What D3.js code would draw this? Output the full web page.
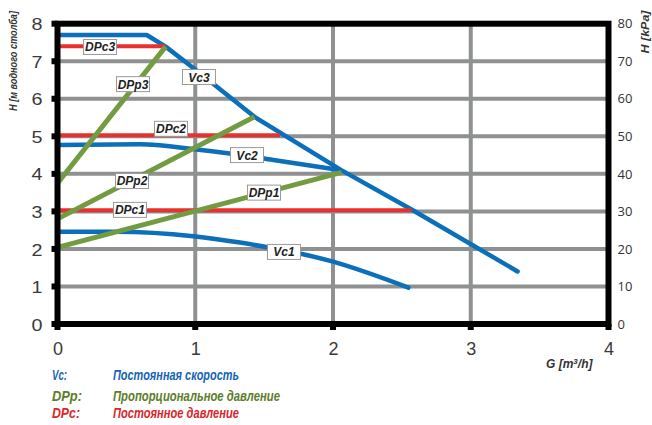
<!DOCTYPE html>
<html>
<head>
<meta charset="utf-8">
<script src="https://cdn.jsdelivr.net/npm/d3@7"></script>
<style>
  html, body { margin: 0; padding: 0; background: #fff; }
  svg { display: block; }
</style>
</head>
<body>
<svg id="chart" width="652" height="425"></svg>
<script>
// ---------- DATA ----------
const xTicks = [0, 1, 2, 3, 4];
const yTicks = [0, 1, 2, 3, 4, 5, 6, 7, 8];
const yRightTicks = [0, 10, 20, 30, 40, 50, 60, 70, 80];

// Constant speed curves (G, H)
const vc1 = [[0, 2.46], [0.43, 2.46], [0.986, 2.34], [1.325, 2.17], [2.0, 1.66], [2.547, 0.97]];
const vc2 = [[0, 4.77], [0.6, 4.79], [0.986, 4.66], [1.567, 4.37], [2.05, 4.1]];
const vc3 = [[0, 7.7], [0.648, 7.7], [0.785, 7.39], [1.0, 6.78], [1.43, 5.52], [2.06, 4.1], [2.57, 3.05], [3.34, 1.4]];

// Proportional pressure lines
const dpp1 = [[0, 2.04], [2.063, 4.04]];
const dpp2 = [[0, 2.8], [1.43, 5.52]];
const dpp3 = [[0, 3.75], [0.785, 7.39]];

// Constant pressure lines
const dpc1 = [[0, 3.03], [2.57, 3.03]];
const dpc2 = [[0, 5.03], [1.615, 5.03]];
const dpc3 = [[0, 7.4], [0.785, 7.4]];

// Curve label names and anchor points (data units)
const labelNames = ["DPc3", "DPp3", "Vc3", "DPc2", "Vc2", "DPp2", "DPp1", "DPc1", "Vc1"];
const labelG = [0.309, 0.548, 1.027, 0.824, 1.376, 0.541, 1.499, 0.526, 1.644];
const labelH = [7.38, 6.39, 6.58, 5.20, 4.50, 3.81, 3.50, 3.04, 1.92];

// Legend
const legendKeys = ["Vc:", "DPp:", "DPc:"];
const legendTexts = ["Постоянная скорость", "Пропорциональное давление", "Постоянное давление"];

// ---------- DRAW ----------
const svg = d3.select("#chart");
const BLUE = "#0b6fba", GREEN = "#739b42", RED = "#e8312f", GRID = "#8e9190";

const x = d3.scaleLinear().domain([0, 4]).range([57.5, 608.5]);
const y = d3.scaleLinear().domain([0, 8]).range([324, 23.7]);
const yR = d3.scaleLinear().domain([0, 80]).range([324, 23.7]);

// grid
const grid = svg.append("g");
grid.selectAll("line.v").data(xTicks.filter(d => d > 0 && d < 4)).join("line")
  .attr("x1", d => x(d)).attr("x2", d => x(d)).attr("y1", y(8)).attr("y2", y(0))
  .attr("stroke", GRID).attr("stroke-width", 4);
grid.selectAll("line.h").data(yTicks.filter(d => d > 0 && d < 8)).join("line")
  .attr("x1", x(0)).attr("x2", x(4)).attr("y1", d => y(d)).attr("y2", d => y(d))
  .attr("stroke", GRID).attr("stroke-width", 4);

const line = d3.line().x(d => x(d[0])).y(d => y(d[1]));
const smooth = d3.line().x(d => x(d[0])).y(d => y(d[1])).curve(d3.curveMonotoneX);

const series = svg.append("g").attr("fill", "none").attr("stroke-linecap", "round").attr("stroke-linejoin", "round");
// blue
[vc1, vc2].forEach(s => series.append("path").attr("d", smooth(s)).attr("stroke", BLUE).attr("stroke-width", 4.5));
series.append("path").attr("d", line(vc3)).attr("stroke", BLUE).attr("stroke-width", 4.5);
// red
[dpc1, dpc2, dpc3].forEach(s => series.append("path").attr("d", line(s)).attr("stroke", RED).attr("stroke-width", 4).attr("stroke-linecap", "butt"));
// green
[dpp1, dpp2, dpp3].forEach(s => series.append("path").attr("d", line(s)).attr("stroke", GREEN).attr("stroke-width", 5).attr("stroke-linecap", "butt"));

// frame
const frame = svg.append("g");
frame.append("rect").attr("x", x(0)).attr("y", y(8)).attr("width", x(4) - x(0)).attr("height", y(0) - y(8))
  .attr("fill", "none").attr("stroke", "#000").attr("stroke-width", 6);
// tick stubs
frame.selectAll("rect.ys").data(yTicks).join("rect")
  .attr("x", x(0) - 6).attr("y", d => y(d) - 3).attr("width", 6).attr("height", 6).attr("fill", "#000");
frame.selectAll("rect.xs").data(xTicks).join("rect")
  .attr("x", d => x(d) - 3).attr("y", y(0)).attr("width", 6).attr("height", 6).attr("fill", "#000");

// axes labels via d3 axes
const axL = svg.append("g").attr("transform", `translate(${x(0)},0)`)
  .call(d3.axisLeft(y).tickValues(yTicks).tickSize(0).tickPadding(15).tickFormat(d3.format("d")));
axL.select(".domain").remove();
axL.selectAll("text").attr("font-family", "Liberation Sans, Arial, sans-serif").attr("font-size", 17)
  .attr("fill", "#3a3a3a").attr("dy", "0.36em").attr("textLength", 11).attr("lengthAdjust", "spacingAndGlyphs");

const axB = svg.append("g").attr("transform", `translate(0,${y(0)})`)
  .call(d3.axisBottom(x).tickValues(xTicks).tickSize(0).tickPadding(18).tickFormat(d3.format("d")));
axB.select(".domain").remove();
axB.selectAll("text").attr("font-family", "Liberation Sans, Arial, sans-serif").attr("font-size", 18)
  .attr("fill", "#3a3a3a");

const axR = svg.append("g").attr("transform", `translate(${x(4)},0)`)
  .call(d3.axisRight(yR).tickValues(yRightTicks).tickSize(0).tickPadding(9).tickFormat(d3.format("d")));
axR.select(".domain").remove();
axR.selectAll("text").attr("font-family", "Open Sans, Liberation Sans, sans-serif").attr("font-size", 13)
  .attr("fill", "#333");

// axis titles
svg.append("text").attr("transform", "translate(17,61) rotate(-90)").attr("text-anchor", "middle")
  .attr("font-family", "Liberation Sans, Arial, sans-serif").attr("font-weight", "bold").attr("font-style", "italic")
  .attr("font-size", 10).attr("fill", "#333").attr("textLength", 100).attr("lengthAdjust", "spacingAndGlyphs")
  .text("H [м водного столба]");
svg.append("text").attr("transform", "translate(649,32) rotate(-90)").attr("text-anchor", "middle")
  .attr("font-family", "Liberation Sans, Arial, sans-serif").attr("font-weight", "bold").attr("font-style", "italic")
  .attr("font-size", 11).attr("fill", "#333").attr("textLength", 43).attr("lengthAdjust", "spacingAndGlyphs")
  .text("H [kPa]");
const gt = svg.append("text").attr("x", 546).attr("y", 368)
  .attr("font-family", "Liberation Sans, Arial, sans-serif").attr("font-weight", "bold").attr("font-style", "italic")
  .attr("font-size", 12).attr("fill", "#333");
gt.append("tspan").text("G [m");
gt.append("tspan").attr("font-size", 8).attr("dy", -4).text("3");
gt.append("tspan").attr("dy", 4).text("/h]");

// curve labels
const lab = svg.append("g");
labelNames.forEach((name, i) => {
  const cx = x(labelG[i]), cy = y(labelH[i]);
  const g = lab.append("g").attr("transform", `translate(${cx},${cy})`);
  g.append("rect").attr("x", -16.5).attr("y", -7.5).attr("width", 33).attr("height", 15)
    .attr("fill", "#fff").attr("stroke", "#9a9a9a").attr("stroke-width", 1);
  g.append("text").attr("text-anchor", "middle").attr("y", 4.5)
    .attr("font-family", "Liberation Sans, Arial, sans-serif").attr("font-weight", "bold").attr("font-style", "italic")
    .attr("font-size", 12).attr("fill", "#222").text(name);
});

// legend
const legColors = ["#1565b5", "#5d7d2a", "#d9262c"];
const legY = [380, 400.5, 418];
const keyW = [15, 30, 28];
const txtW = [126, 167, 126];
const leg = svg.append("g").attr("font-family", "Liberation Sans Narrow, Liberation Sans, Arial, sans-serif")
  .attr("font-weight", "bold").attr("font-style", "italic").attr("font-size", 15);
legendKeys.forEach((k, i) => {
  leg.append("text").attr("x", 52).attr("y", legY[i]).attr("fill", legColors[i])
    .attr("textLength", keyW[i]).attr("lengthAdjust", "spacingAndGlyphs").text(k);
  leg.append("text").attr("x", 113).attr("y", legY[i]).attr("fill", legColors[i])
    .attr("textLength", txtW[i]).attr("lengthAdjust", "spacingAndGlyphs").text(legendTexts[i]);
});
</script>
</body>
</html>
